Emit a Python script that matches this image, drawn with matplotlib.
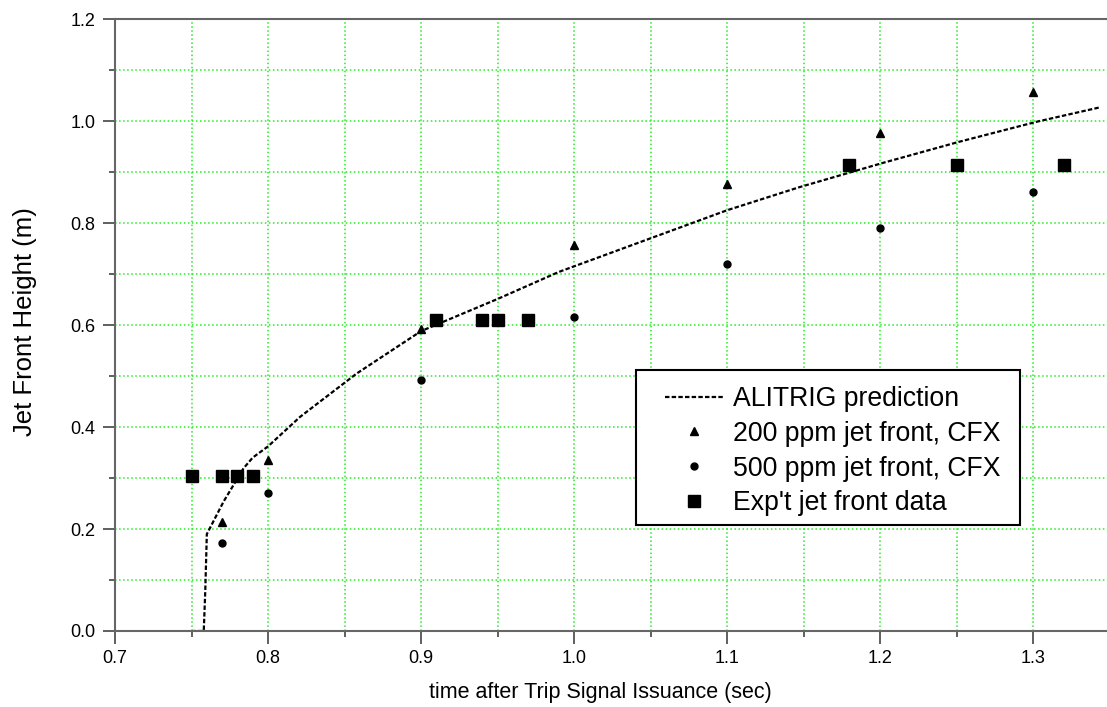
import matplotlib.pyplot as plt
from matplotlib.patches import Rectangle
from matplotlib.ticker import MultipleLocator

plt.rcParams['font.family'] = ['Liberation Sans', 'DejaVu Sans']

# ALITRIG prediction curve
pred_t = [0.750, 0.758, 0.759, 0.760, 0.771, 0.784, 0.790, 0.800, 0.821, 0.858,
          0.900, 0.950, 0.990, 1.050, 1.100, 1.147, 1.202, 1.252, 1.303, 1.344]
pred_h = [0.0, 0.0, 0.08, 0.19, 0.254, 0.319, 0.340, 0.362, 0.420, 0.505,
          0.588, 0.651, 0.704, 0.770, 0.825, 0.870, 0.918, 0.9595, 0.999, 1.027]

# CFX results
cfx_t = [0.77, 0.80, 0.90, 1.00, 1.10, 1.20, 1.30]
cfx200_h = [0.214, 0.335, 0.593, 0.757, 0.877, 0.976, 1.056]
cfx500_h = [0.172, 0.271, 0.492, 0.615, 0.720, 0.791, 0.861]

# experimental data
exp_t = [0.75, 0.77, 0.78, 0.79, 0.91, 0.94, 0.95, 0.97, 1.18, 1.25, 1.32]
exp_h = [0.3048, 0.3048, 0.3048, 0.3048, 0.6096, 0.6096, 0.6096, 0.6096,
         0.9144, 0.9144, 0.9144]

W, H = 1107, 707
fig = plt.figure(figsize=(W / 100, H / 100), dpi=100)
ax = fig.add_axes([0.1039, 0.1075, 0.8984, 0.8656])

ax.plot(pred_t, pred_h, color='black', linestyle=(0, (2, 1)), lw=1.6,
        label='ALITRIG prediction')
ax.plot(cfx_t, cfx200_h, '^', color='black', ms=6, label='200 ppm jet front, CFX')
ax.plot(cfx_t, cfx500_h, 'o', color='black', ms=5, label='500 ppm jet front, CFX')
ax.plot(exp_t, exp_h, 's', color='black', ms=9, label="Exp't jet front data")

ax.set_xlim(0.7, 1.35)
ax.set_ylim(0.0, 1.2)
ax.xaxis.set_major_locator(MultipleLocator(0.1))
ax.xaxis.set_minor_locator(MultipleLocator(0.05))
ax.yaxis.set_major_locator(MultipleLocator(0.2))
ax.yaxis.set_minor_locator(MultipleLocator(0.1))
ax.xaxis.set_major_formatter(plt.FormatStrFormatter('%.1f'))
ax.yaxis.set_major_formatter(plt.FormatStrFormatter('%.1f'))

ax.grid(which='both', color='#22ee22', linestyle=':', lw=1.1)
ax.set_axisbelow(True)

for s in ['left', 'bottom', 'top']:
    ax.spines[s].set_color('#666666')
    ax.spines[s].set_linewidth(1.5)
ax.spines['right'].set_visible(False)
ax.tick_params(which='major', direction='out', length=9, width=1.2,
               color='#444444', labelsize=13, pad=5)
ax.tick_params(which='minor', direction='out', length=4.5, width=1.2,
               color='#444444')

ax.set_xlabel('time after Trip Signal Issuance (sec)', fontsize=15.5)
ax.xaxis.set_label_coords(0.488, -0.083)
ax.set_ylabel('Jet Front Height (m)', fontsize=18.5)
ax.yaxis.set_label_coords(-0.078, 0.505)

# legend box, drawn separately to get the wide padding
ax.add_patch(Rectangle((636 / W, 1 - 525 / H), (1020 - 636) / W, 155 / H,
                       transform=fig.transFigure, facecolor='white',
                       edgecolor='black', lw=1.5, zorder=4.5, clip_on=False))
ax.legend(loc='upper left', bbox_to_anchor=(665 / W, 1 - 386 / H),
          bbox_transform=fig.transFigure, fontsize=19.2, frameon=False,
          borderpad=0, borderaxespad=0, handlelength=2.17,
          handletextpad=0.37, labelspacing=0.33)

fig.savefig('out.png', dpi=100)
